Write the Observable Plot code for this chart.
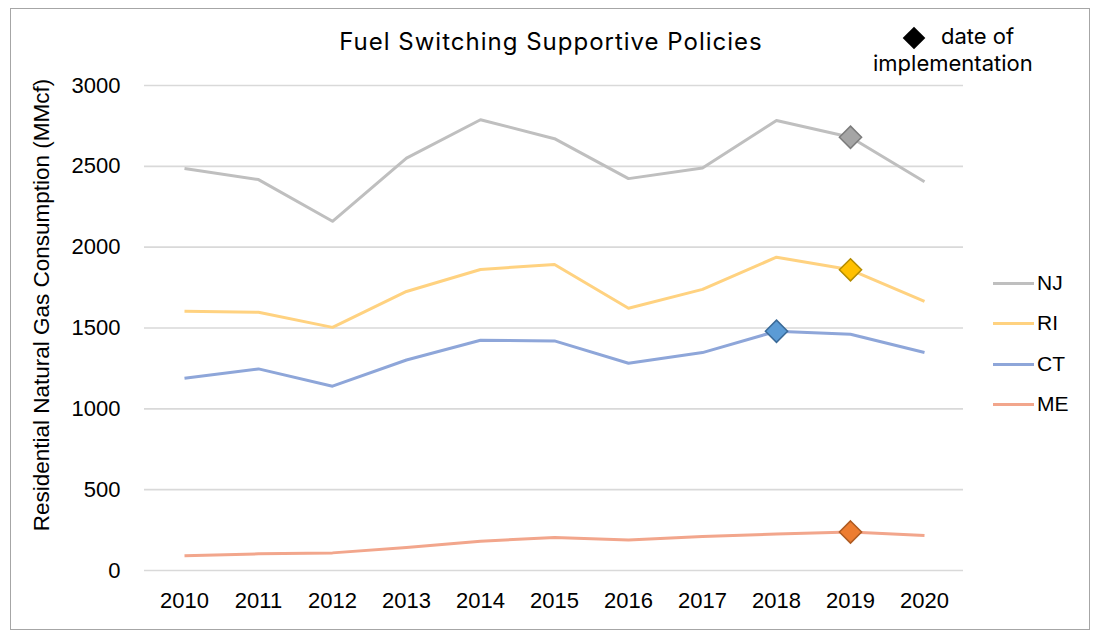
<!DOCTYPE html>
<html>
<head>
<meta charset="utf-8">
<script src="https://cdn.jsdelivr.net/npm/d3@7"></script>
<script src="https://cdn.jsdelivr.net/npm/@observablehq/plot@0.6"></script>
<style>
  html, body { margin: 0; padding: 0; background: #fff; }
  #wrap { position: relative; width: 1102px; height: 639px; overflow: hidden; }
  #wrap svg { position: absolute; left: 0; top: 0; }
  .border { position: absolute; left: 10px; top: 8px; width: 1080px; height: 622px; border: 1px solid #a6a6a6; box-sizing: border-box; pointer-events: none; }
  .title { position: absolute; left: 0; width: 1102px; top: 27px; text-align: center; font-family: Inter, "Noto Sans", sans-serif; font-size: 24px; letter-spacing: 1px; color: #000; }
  .ylabel { position: absolute; left: 42px; top: 305px; transform: translate(-50%, -50%) rotate(-90deg); white-space: nowrap; font-family: "Liberation Sans", Arial, sans-serif; font-size: 22.5px; color: #000; }
  .key { position: absolute; font-family: Inter, "Noto Sans", sans-serif; font-size: 22px; color: #000; white-space: nowrap; }
  .legend { position: absolute; left: 993px; font-family: "Liberation Sans", Arial, sans-serif; font-size: 21px; color: #000; }
  .legend .item { position: absolute; left: 0; display: flex; align-items: center; white-space: nowrap; transform: translateY(-50%); }
  .legend .swatch { width: 41px; height: 3px; margin-right: 3px; }
</style>
</head>
<body>
<div id="wrap"></div>
<script>
const years = [2010, 2011, 2012, 2013, 2014, 2015, 2016, 2017, 2018, 2019, 2020];
const states = ["NJ", "RI", "CT", "ME"];
const nj = [2486, 2418, 2160, 2551, 2788, 2671, 2424, 2490, 2784, 2680, 2405];
const ri = [1603, 1597, 1504, 1726, 1862, 1893, 1622, 1739, 1938, 1860, 1665];
const ct = [1189, 1247, 1140, 1302, 1424, 1420, 1282, 1348, 1480, 1461, 1348];
const me = [91, 103, 109, 142, 181, 204, 189, 210, 226, 238, 216];
const implementationYear = {NJ: 2019, RI: 2019, CT: 2018, ME: 2019};
const yTicks = [0, 500, 1000, 1500, 2000, 2500, 3000];
const lineColors = ["#bfbfbf", "#ffd280", "#8ea6d9", "#f2a68c"];
const markerFill = {NJ: "#a5a5a5", RI: "#ffc000", CT: "#5b9bd5", ME: "#ed7d31"};
const markerStroke = {NJ: "#7c7c7c", RI: "#b38b00", CT: "#3a6a98", ME: "#ae5a21"};
const titleText = "Fuel Switching Supportive Policies";
const yLabelText = "Residential Natural Gas Consumption (MMcf)";

const seriesValues = {NJ: nj, RI: ri, CT: ct, ME: me};
const data = states.flatMap(s => years.map((yr, i) => ({state: s, year: yr, value: seriesValues[s][i]})));
const markers = data.filter(d => implementationYear[d.state] === d.year);

const chart = Plot.plot({
  width: 1102,
  height: 639,
  marginLeft: 144,
  marginRight: 139,
  marginTop: 85,
  marginBottom: 69,
  style: {fontFamily: '"Liberation Sans", Arial, sans-serif', fontSize: "22px", color: "#000", background: "transparent"},
  x: {type: "point", domain: years, padding: 0.5},
  y: {domain: [0, 3000]},
  color: {domain: states, range: lineColors},
  marks: [
    Plot.gridY(yTicks, {stroke: "#d9d9d9", strokeOpacity: 1, strokeWidth: 1.6}),
    Plot.axisX({tickSize: 0, tickPadding: 22, tickFormat: d => String(d), label: null, fontSize: 22}),
    Plot.axisY(yTicks, {tickSize: 0, tickPadding: 24, tickFormat: d => String(d), label: null, fontSize: 22}),
    Plot.line(data, {x: "year", y: "value", z: "state", stroke: "state", strokeWidth: 3, strokeLinejoin: "round", strokeLinecap: "butt"}),
    Plot.dot(markers, {x: "year", y: "value", symbol: "diamond2", r: 10, fill: d => markerFill[d.state], stroke: d => markerStroke[d.state], strokeWidth: 1.5})
  ]
});

const wrap = document.getElementById("wrap");
wrap.appendChild(chart);

const border = document.createElement("div");
border.className = "border";
wrap.appendChild(border);

const title = document.createElement("div");
title.className = "title";
title.textContent = titleText;
wrap.appendChild(title);

const yl = document.createElement("div");
yl.className = "ylabel";
yl.textContent = yLabelText;
wrap.appendChild(yl);

// key: diamond + "date of implementation"
const keyDiamond = document.createElement("div");
keyDiamond.style.cssText = "position:absolute;left:906px;top:30px;width:16px;height:16px;background:#000;transform:rotate(45deg);";
wrap.appendChild(keyDiamond);
const key1 = document.createElement("div");
key1.className = "key";
key1.style.left = "941px"; key1.style.top = "23px";
key1.textContent = "date of";
wrap.appendChild(key1);
const key2 = document.createElement("div");
key2.className = "key";
key2.style.left = "873px"; key2.style.top = "50px";
key2.textContent = "implementation";
wrap.appendChild(key2);

// legend
const legend = document.createElement("div");
legend.className = "legend";
legend.style.top = "0px";
const legendY = [283, 323, 364, 404];
states.forEach((s, i) => {
  const item = document.createElement("div");
  item.className = "item";
  item.style.top = legendY[i] + "px";
  const sw = document.createElement("div");
  sw.className = "swatch";
  sw.style.background = lineColors[i];
  const lab = document.createElement("span");
  lab.textContent = s;
  item.appendChild(sw);
  item.appendChild(lab);
  legend.appendChild(item);
});
wrap.appendChild(legend);
</script>
</body>
</html>
